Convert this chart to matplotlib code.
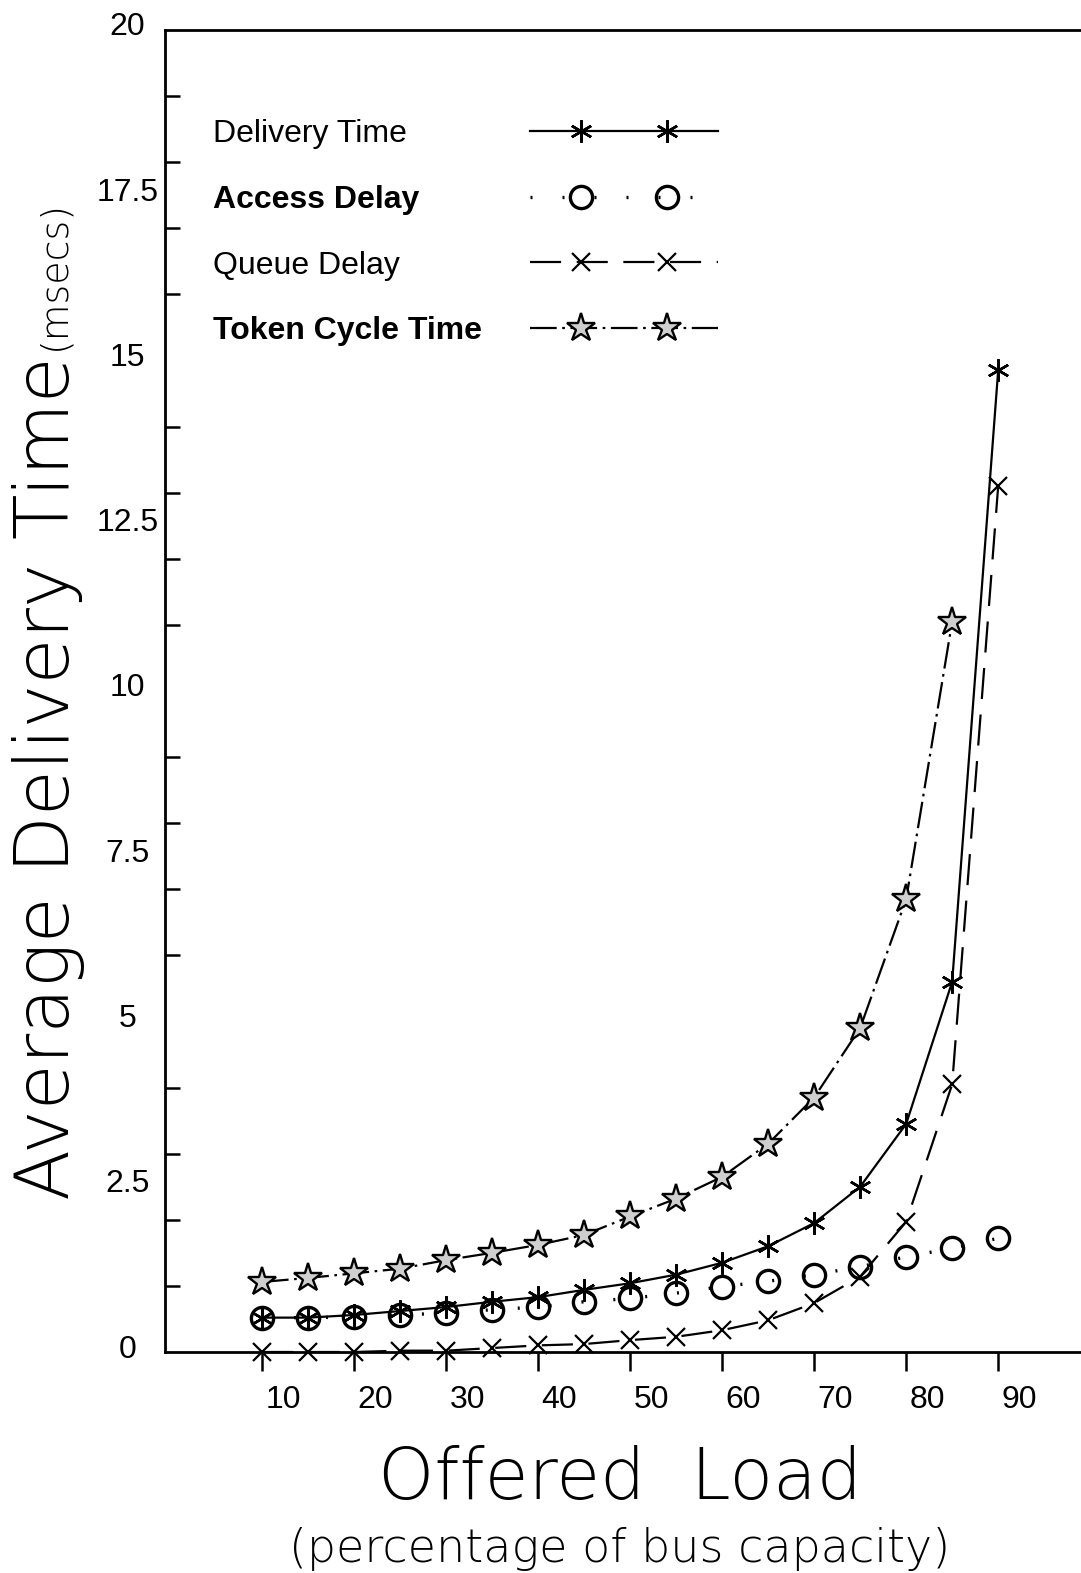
import matplotlib
matplotlib.use("Agg")
import matplotlib.pyplot as plt
from matplotlib.lines import Line2D
from matplotlib.legend_handler import HandlerLine2D
from matplotlib.transforms import ScaledTranslation
from matplotlib import font_manager
from matplotlib.font_manager import FontProperties
import numpy as np

# ---------------- data ----------------
load = [10, 15, 20, 25, 30, 35, 40, 45, 50, 55, 60, 65, 70, 75, 80, 85, 90]
delivery_time = [0.52, 0.52, 0.56, 0.62, 0.68, 0.76, 0.83, 0.94, 1.04, 1.17,
                 1.35, 1.60, 1.95, 2.50, 3.45, 5.60, 14.85]
access_delay = [0.52, 0.52, 0.53, 0.56, 0.59, 0.64, 0.68, 0.76, 0.81, 0.89,
                0.99, 1.07, 1.17, 1.29, 1.44, 1.57, 1.72]
queue_delay = [0.0, 0.0, 0.0, 0.02, 0.02, 0.06, 0.10, 0.12, 0.18, 0.23,
               0.33, 0.48, 0.74, 1.14, 1.97, 4.05, 13.10]
load_tc = [10, 15, 20, 25, 30, 35, 40, 45, 50, 55, 60, 65, 70, 75, 80, 85]
token_cycle = [1.06, 1.12, 1.19, 1.26, 1.39, 1.50, 1.62, 1.77, 2.05, 2.32,
               2.65, 3.15, 3.85, 4.90, 6.85, 11.05]

series_labels = ["Delivery Time", "Access Delay", "Queue Delay", "Token Cycle Time"]
x_ticks = [10, 20, 30, 40, 50, 60, 70, 80, 90]
y_tick_values = [0, 2.5, 5, 7.5, 10, 12.5, 15, 17.5, 20]
y_tick_labels = ["0", "2.5", "5", "7.5", "10", "12.5", "15", "17.5", "20"]
y_minor = list(range(0, 21))

# ---------------- fonts ----------------
avail = {f.name for f in font_manager.fontManager.ttflist}
tick_font = "Liberation Sans" if "Liberation Sans" in avail else "DejaVu Sans"

thin_font, thin_weight = "DejaVu Sans", "normal"
for fam, wgt, key in [("DejaVu Sans", 200, "extralight"), ("Roboto", 300, "light"),
                      ("Open Sans", 300, "light"), ("Lato", 300, "light")]:
    if fam not in avail:
        continue
    try:
        path = font_manager.findfont(FontProperties(family=fam, weight=wgt),
                                     fallback_to_default=False)
    except Exception:
        continue
    if key in path.lower().replace("-", "").replace("_", ""):
        thin_font, thin_weight = fam, wgt
        break

W, H, DPI = 1081, 1573, 100
fig = plt.figure(figsize=(W / DPI, H / DPI), dpi=DPI)
fig.patch.set_facecolor("white")

ax_left, ax_right = 165, 1081
ax_top, ax_bottom = 30, 1352
ax = fig.add_axes([ax_left / W, 1 - ax_bottom / H,
                   (ax_right - ax_left) / W, (ax_bottom - ax_top) / H])
ax.set_xlim(-0.54, 99.0)
ax.set_ylim(0, 20)

lw = 1.6
star_fc = "#cfcfcf"
l1, = ax.plot(load, delivery_time, color="black", lw=lw, ls="-",
              marker=(6, 2, 0), ms=16, mew=1.8, clip_on=False, zorder=3)
l2, = ax.plot(load, access_delay, color="black", lw=2.4, ls=(0, (0.6, 9.0)),
              marker="o", ms=16, mfc="none", mec="black", mew=2.4,
              clip_on=False, zorder=3)
l3, = ax.plot(load, queue_delay, color="black", lw=lw, ls=(0, (14, 7)),
              marker="x", ms=13, mew=1.6, clip_on=False, zorder=3)
l4, = ax.plot(load_tc, token_cycle, color="black", lw=lw,
              ls=(0, (12, 2.5, 1.2, 2.5)),
              marker="*", ms=21, mfc=star_fc, mec="black", mew=1.7,
              clip_on=False, zorder=4)

# spines
for s in ["left", "bottom", "top"]:
    ax.spines[s].set_linewidth(2.0)
ax.spines["right"].set_visible(False)

# x ticks
ax.set_xticks(x_ticks)
ax.set_xticklabels([str(v) for v in x_ticks], fontfamily=tick_font, fontsize=23)
ax.tick_params(axis="x", which="major", direction="out", length=14, width=1.8,
               pad=10)
for lab in ax.get_xticklabels():
    lab.set_transform(lab.get_transform() + ScaledTranslation(0.21, 0, fig.dpi_scale_trans))

# y ticks
ax.set_yticks(y_tick_values)
ax.set_yticklabels(y_tick_labels, fontfamily=tick_font, fontsize=23)
ax.set_yticks(y_minor, minor=True)
ax.tick_params(axis="y", which="major", length=0, pad=27)
ax.tick_params(axis="y", which="minor", direction="in", length=11, width=1.8)
for lab in ax.get_yticklabels():
    lab.set_horizontalalignment("center")
    lab.set_transform(lab.get_transform() + ScaledTranslation(0, 0.06, fig.dpi_scale_trans))


# axis titles
def fx(px):
    return px / W


def fy(py):
    return 1 - py / H


t_ylab = fig.text(fx(49), fy(778), "Average Delivery Time", rotation=90, ha="center",
                  va="center", fontsize=52, fontfamily=thin_font, fontweight=thin_weight)
t_ms = fig.text(fx(54), fy(275), "(msecs)", rotation=90, ha="center", va="center",
                fontsize=30, fontfamily=thin_font, fontweight=thin_weight)
t_xlab = fig.text(fx(620), fy(1479), "Offered  Load", ha="center", va="center",
                  fontsize=54, fontfamily=thin_font, fontweight=thin_weight)
t_sub = fig.text(fx(620), fy(1549), "(percentage of bus capacity)", ha="center",
                 va="center", fontsize=31, fontfamily=thin_font, fontweight=thin_weight)

# fit title sizes to the reference extents (pixels)
fig.canvas.draw()
r = fig.canvas.get_renderer()
for t, target, vertical in [(t_ylab, 845, True), (t_ms, 150, True),
                            (t_xlab, 484, False), (t_sub, 660, False)]:
    bb = t.get_window_extent(r)
    cur = bb.height if vertical else bb.width
    t.set_fontsize(t.get_fontsize() * target / cur)

# legend: text column
fs = 23
fs_px = fs * DPI / 72
handles = [l1, l2, l3, l4]
blank = [Line2D([], [], ls="none", marker="none") for _ in handles]
anchor_y = (ax_bottom - 119) / (ax_bottom - ax_top)
ls_sp = 1.12
leg_text = ax.legend(blank, series_labels, loc="upper left",
                     bbox_to_anchor=((213 - ax_left) / (ax_right - ax_left), anchor_y),
                     frameon=False, borderpad=0, borderaxespad=0,
                     handlelength=0, handletextpad=0, labelspacing=ls_sp,
                     prop={"family": tick_font, "size": fs})
weights = ["normal", "bold", "normal", "bold"]
for t, wgt in zip(leg_text.get_texts(), weights):
    t.set_fontweight(wgt)
ax.add_artist(leg_text)


class FullLineHandler(HandlerLine2D):
    """Legend sample: full-length line with two markers set in from the ends."""

    def create_artists(self, legend, orig_handle, xdescent, ydescent, width,
                       height, fontsize, trans):
        x0 = -xdescent
        x1 = -xdescent + width
        pad = self._marker_pad * fontsize
        xdata = np.array([x0, x0 + pad, x1 - pad, x1])
        ydata = np.full_like(xdata, (height - ydescent) / 2)
        legline = Line2D(xdata, ydata)
        self.update_prop(legline, orig_handle, legend)
        legline.set_markevery([1, 2])
        legline.set_clip_on(False)
        legline.set_transform(trans)
        return [legline]


leg_lines = ax.legend(handles, ["", "", "", ""], loc="upper left",
                      bbox_to_anchor=((530 - ax_left) / (ax_right - ax_left), anchor_y),
                      frameon=False, borderpad=0, borderaxespad=0,
                      handlelength=188 / fs_px, handletextpad=0, labelspacing=ls_sp,
                      numpoints=2, prop={"family": tick_font, "size": fs},
                      handler_map={Line2D: FullLineHandler(marker_pad=1.6)})

fig.savefig("out.png", dpi=DPI, facecolor="white")
